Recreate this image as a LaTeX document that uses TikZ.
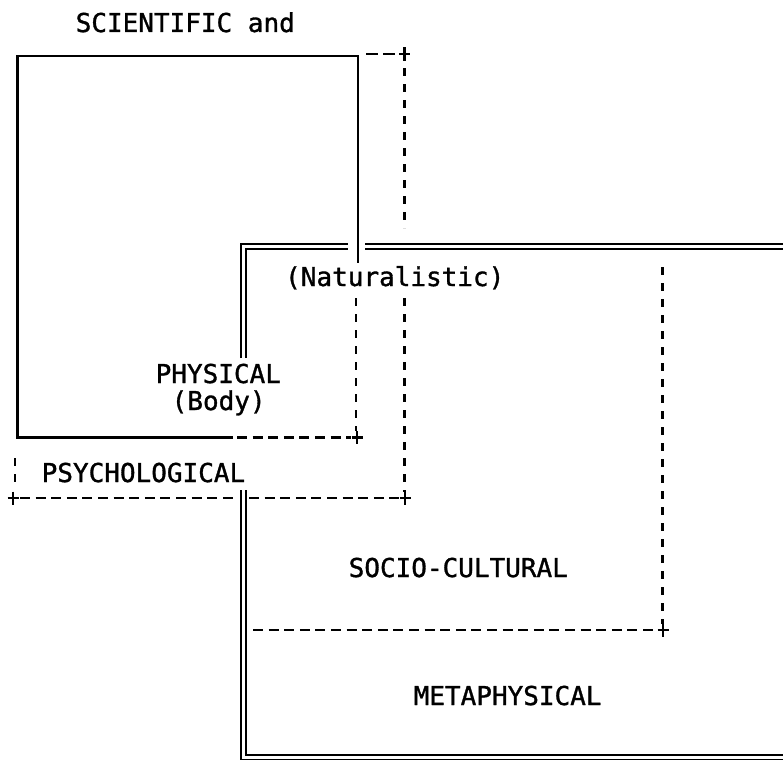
\documentclass[tikz,border=0pt]{standalone}
\usepackage{fontspec}
\setmonofont[FakeBold=1.2]{DejaVu Sans Mono}
\begin{document}
\begin{tikzpicture}[x=1pt,y=-1pt,
  solidln/.style={line width=2.6pt},
  dashh/.style={line width=2.6pt,dash pattern=on 10pt off 5.6pt},
  dashv/.style={line width=2.8pt,dash pattern=on 8pt off 8pt},
  dblln/.style={line width=1.9pt,double,double distance=3pt,line join=miter},
  lbl/.style={inner sep=0pt,anchor=base west,font=\ttfamily\fontsize{26}{30}\selectfont},
  crossmk/.pic={\draw[line width=2.6pt] (-5.5,0) -- (5.5,0) (0,-6.5) -- (0,6.5);}]
\useasboundingbox (0,0) rectangle (783,760);
\clip (0,0) rectangle (783,760);

% outer double-ruled frame (metaphysical)
\draw[dblln] (243.2,358) -- (243.2,246.3) -- (348,246.3);
\draw[dblln] (365,246.3) -- (795,246.3);
\draw[dblln] (243.2,490) -- (243.2,757) -- (795,757);

% solid frame (physical)
\draw[solidln] (233,437.5) -- (17.5,437.5) -- (17.5,56) -- (358,56) -- (358,263);
\draw[dashv] (356,298) -- (356,431);
\draw[dashh] (237,437.5) -- (351,437.5);
\pic at (357,437.5) {crossmk};

% dashed frame (psychological)
\draw[dashh,dash pattern=on 12pt off 5pt] (366,54) -- (398,54);
\pic at (404.5,54) {crossmk};
\draw[dashv] (404.5,68) -- (404.5,228);
\draw[dashv] (404.5,298) -- (404.5,492);
\draw[dashv] (15,458) -- (15,484);
\pic at (13,498) {crossmk};
\draw[dashh] (20,498) -- (238,498);
\draw[dashh] (249,498) -- (399,498);
\pic at (405,498) {crossmk};

% dashed frame (socio-cultural)
\draw[dashv] (662.5,267) -- (662.5,624);
\draw[dashh] (253,630) -- (657,630);
\pic at (663,630) {crossmk};

% labels
\node[lbl] (sci)  at (75.5,32)  {SCIENTIFIC and};
\node[lbl] (nat)  at (285,286)  {(Naturalistic)};
\node[lbl] (phys) at (155.5,383) {PHYSICAL};
\node[lbl] (body) at (171.5,410) {(Body)};
\node[lbl] (psy)  at (41.5,482) {PSYCHOLOGICAL};
\node[lbl] (soc)  at (348.5,577) {SOCIO-CULTURAL};
\node[lbl] (meta) at (413.5,705) {METAPHYSICAL};
\end{tikzpicture}
\end{document}
